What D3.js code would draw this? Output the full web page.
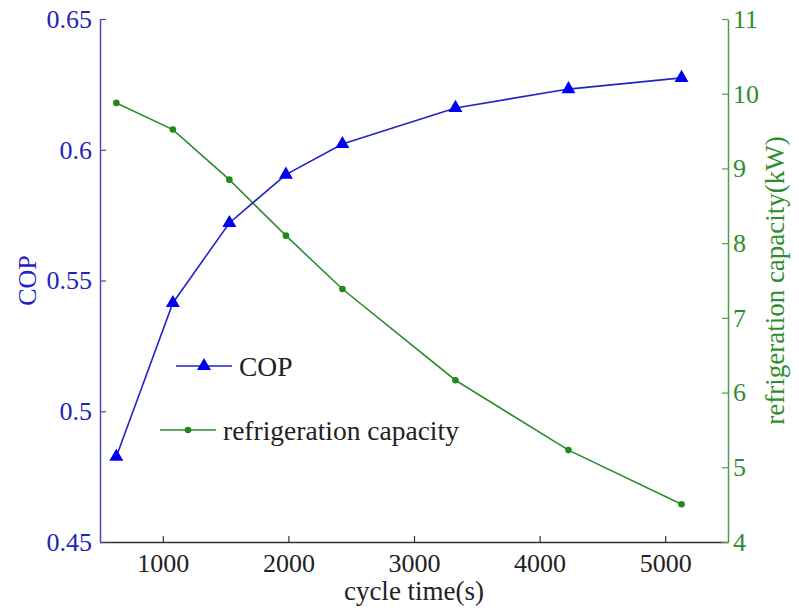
<!DOCTYPE html>
<html>
<head>
<meta charset="utf-8">
<script src="https://cdn.jsdelivr.net/npm/d3@7"></script>
<style>
  body { margin: 0; background: #fff; }
  svg text { font-family: "Liberation Serif", "Times New Roman", serif; }
</style>
</head>
<body>
<script>
// data
var cycleTime = [630, 1080, 1530, 1980, 2430, 3330, 4230, 5130];
var cop = [0.4826, 0.5414, 0.572, 0.5905, 0.6022, 0.616, 0.6232, 0.6275];
var capacity = [9.877, 9.52, 8.85, 8.10, 7.386, 6.165, 5.23, 4.505];
var xTicks = [1000, 2000, 3000, 4000, 5000];
var copTicks = [0.45, 0.5, 0.55, 0.6, 0.65];
var capTicks = [4, 5, 6, 7, 8, 9, 10, 11];
var legendItems = ["COP", "refrigeration capacity"];

var W = 799, H = 613;
var mLeft = 100, mRight = 728, mTop = 19, mBottom = 542;
var serif = '"Liberation Serif", "Times New Roman", serif';

var blue = "#0000ee", blueLine = "#2323c8", blueAxis = "#4b4bb4", blueText = "#2424b8";
var green = "#1e8a1e", greenLine = "#2f8a2f", greenAxis = "#4d9f4d", greenText = "#2e8e2e";

var svg = d3.select("body").append("svg")
    .attr("width", W).attr("height", H);

var x = d3.scaleLinear().domain([500, 5500]).range([mLeft, mRight]);
var yCop = d3.scaleLinear().domain([0.45, 0.65]).range([mBottom, mTop]);
var yCap = d3.scaleLinear().domain([4, 11]).range([mBottom, mTop]);

// bottom axis, ticks pointing inward
var xAxis = svg.append("g")
    .attr("transform", "translate(0," + mBottom + ")")
    .call(d3.axisBottom(x).tickValues(xTicks).tickFormat(d3.format("d"))
        .tickSizeInner(-6).tickSizeOuter(0).tickPadding(12));
xAxis.attr("font-family", serif);
xAxis.select(".domain").attr("stroke", "#333").attr("stroke-width", 1.5);
xAxis.selectAll(".tick line").attr("stroke", "#333").attr("stroke-width", 1.2);
xAxis.selectAll(".tick text").attr("fill", "#222").style("font-family", serif).style("font-size", "26px");

// left axis (COP)
var yAxisL = svg.append("g")
    .attr("transform", "translate(" + mLeft + ",0)")
    .call(d3.axisLeft(yCop).tickValues(copTicks).tickFormat(function(d){ return String(+d.toFixed(2)); })
        .tickSizeInner(-6).tickSizeOuter(0).tickPadding(8));
yAxisL.attr("font-family", serif);
yAxisL.select(".domain").attr("stroke", blueAxis).attr("stroke-width", 1.5);
yAxisL.selectAll(".tick line").attr("stroke", blueAxis).attr("stroke-width", 1.2);
yAxisL.selectAll(".tick text").attr("fill", blueText).style("font-family", serif).style("font-size", "26px");

// right axis (capacity)
var yAxisR = svg.append("g")
    .attr("transform", "translate(" + mRight + ",0)")
    .call(d3.axisRight(yCap).tickValues(capTicks).tickFormat(d3.format("d"))
        .tickSizeInner(-6).tickSizeOuter(0).tickPadding(5));
yAxisR.attr("font-family", serif);
yAxisR.select(".domain").attr("stroke", greenAxis).attr("stroke-width", 1.5);
yAxisR.selectAll(".tick line").attr("stroke", greenAxis).attr("stroke-width", 1.2);
yAxisR.selectAll(".tick text").attr("fill", greenText).style("font-family", serif).style("font-size", "26px");

// axis titles
svg.append("text")
    .attr("x", x(3000)).attr("y", 600)
    .attr("text-anchor", "middle").attr("fill", "#222")
    .style("font-size", "27px")
    .text("cycle time(s)");

svg.append("text")
    .attr("transform", "translate(36," + ((mTop + mBottom) / 2) + ") rotate(-90)")
    .attr("text-anchor", "middle").attr("fill", "#2020d0")
    .style("font-size", "26px")
    .text("COP");

svg.append("text")
    .attr("transform", "translate(784," + ((mTop + mBottom) / 2) + ") rotate(-90)")
    .attr("text-anchor", "middle").attr("fill", greenText)
    .style("font-size", "27px")
    .text("refrigeration capacity(kW)");

var copData = cycleTime.map(function(t, i){ return [t, cop[i]]; });
var capData = cycleTime.map(function(t, i){ return [t, capacity[i]]; });

// capacity line
svg.append("path")
    .datum(capData)
    .attr("fill", "none").attr("stroke", greenLine).attr("stroke-width", 1.6)
    .attr("d", d3.line().x(function(d){ return x(d[0]); }).y(function(d){ return yCap(d[1]); }));
svg.selectAll("circle.cap")
    .data(capData)
    .enter().append("circle")
    .attr("class", "cap")
    .attr("cx", function(d){ return x(d[0]); })
    .attr("cy", function(d){ return yCap(d[1]); })
    .attr("r", 3.3).attr("fill", green);

// COP line
var tri = d3.symbol().type(d3.symbolTriangle).size(85);
svg.append("path")
    .datum(copData)
    .attr("fill", "none").attr("stroke", blueLine).attr("stroke-width", 1.6)
    .attr("d", d3.line().x(function(d){ return x(d[0]); }).y(function(d){ return yCop(d[1]); }));
svg.selectAll("path.cop")
    .data(copData)
    .enter().append("path")
    .attr("class", "cop")
    .attr("transform", function(d){ return "translate(" + x(d[0]) + "," + yCop(d[1]) + ")"; })
    .attr("d", tri).attr("fill", blue);

// legend
var lg = svg.append("g");
var legendPos = [{x1: 176, x2: 232, y: 366, tx: 239}, {x1: 160, x2: 216, y: 430, tx: 223}];
legendItems.forEach(function(name, i){
    var p = legendPos[i];
    var g = lg.append("g");
    g.append("line")
        .attr("x1", p.x1).attr("x2", p.x2).attr("y1", p.y).attr("y2", p.y)
        .attr("stroke", i === 0 ? blueLine : greenLine).attr("stroke-width", 1.6);
    if (i === 0) {
        g.append("path")
            .attr("transform", "translate(" + ((p.x1 + p.x2) / 2) + "," + p.y + ")")
            .attr("d", tri).attr("fill", blue);
    } else {
        g.append("circle")
            .attr("cx", (p.x1 + p.x2) / 2).attr("cy", p.y)
            .attr("r", 3.3).attr("fill", green);
    }
    g.append("text")
        .attr("x", p.tx).attr("y", p.y + 10)
        .attr("fill", "#222").style("font-size", "27.5px")
        .text(name);
});
</script>
</body>
</html>
